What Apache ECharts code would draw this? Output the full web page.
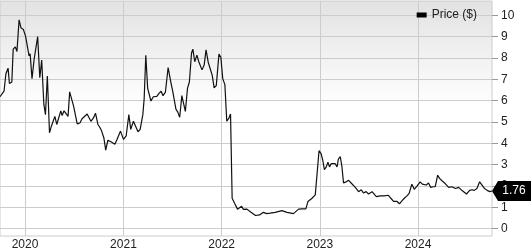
<!DOCTYPE html>
<html><head><meta charset="utf-8">
<script src="https://cdn.jsdelivr.net/npm/echarts@6/dist/echarts.min.js"></script>
<style>html,body{margin:0;padding:0;background:#fff}#c{width:531px;height:251px}</style>
</head><body><div id="c"></div>
<script>
var dates = ['2019-09-30','2019-10-15','2019-10-22','2019-10-30','2019-11-04','2019-11-13','2019-11-18','2019-11-26','2019-12-02','2019-12-10','2019-12-17','2019-12-26',
'2020-01-03','2020-01-16','2020-01-20','2020-01-27','2020-02-04','2020-02-17','2020-02-25','2020-03-03','2020-03-11','2020-03-17','2020-03-24','2020-04-01','2020-04-08','2020-04-21','2020-04-28','2020-05-13','2020-05-18','2020-05-25','2020-06-01','2020-06-09','2020-06-15','2020-06-30','2020-07-13','2020-07-23','2020-07-31','2020-08-19','2020-08-26','2020-09-02','2020-09-12','2020-09-19','2020-09-28','2020-10-05','2020-10-12','2020-10-20','2020-10-27','2020-11-04','2020-11-14','2020-11-21','2020-11-30','2020-12-08','2020-12-21',
'2021-01-01','2021-01-11','2021-01-21','2021-01-28','2021-02-07','2021-02-13','2021-02-24','2021-03-04','2021-03-14','2021-03-19','2021-03-25','2021-04-01','2021-04-13','2021-04-22','2021-05-05','2021-05-13','2021-05-21','2021-05-28','2021-06-06','2021-06-16','2021-06-26','2021-07-03','2021-07-15','2021-07-22','2021-07-29','2021-08-06','2021-08-13','2021-08-19','2021-08-27','2021-09-03','2021-09-11','2021-09-16','2021-09-23','2021-10-01','2021-10-08','2021-10-13','2021-10-20','2021-10-28','2021-11-04','2021-11-12','2021-11-19','2021-11-27','2021-12-04','2021-12-12','2021-12-22','2021-12-29',
'2022-01-05','2022-01-13','2022-01-20','2022-01-28','2022-02-03','2022-02-09','2022-02-18','2022-03-01','2022-03-08','2022-03-16','2022-03-23','2022-04-05','2022-04-20','2022-05-07','2022-05-22','2022-06-05','2022-06-18','2022-06-30','2022-07-19','2022-08-13','2022-09-01','2022-09-25','2022-10-14','2022-10-26','2022-11-10','2022-11-18','2022-12-03','2022-12-15','2022-12-29',
'2023-01-06','2023-01-12','2023-01-18','2023-01-25','2023-01-31','2023-02-06','2023-02-12','2023-02-19','2023-02-27','2023-03-06','2023-03-11','2023-03-18','2023-03-24','2023-03-30','2023-04-09','2023-04-18','2023-04-30','2023-05-13','2023-05-25','2023-06-04','2023-06-12','2023-06-22','2023-07-01','2023-07-14','2023-07-20','2023-07-30','2023-08-14','2023-08-28','2023-09-13','2023-09-22','2023-10-02','2023-10-15','2023-10-24','2023-11-02','2023-11-11','2023-11-21','2023-11-29','2023-12-09','2023-12-18','2023-12-28',
'2024-01-09','2024-01-17','2024-01-24','2024-02-01','2024-02-09','2024-02-17','2024-02-26','2024-03-05','2024-03-14','2024-03-21','2024-03-30','2024-04-11','2024-04-24','2024-05-06','2024-05-19','2024-05-31','2024-06-13','2024-06-29','2024-07-11','2024-07-20','2024-07-28','2024-08-07','2024-08-17','2024-08-26','2024-09-04','2024-09-14','2024-09-24','2024-10-02'];
var prices = [6.18,6.44,7.26,7.52,6.8,6.87,8.41,8.52,8.3,9.79,9.41,9.33,
9.02,8.1,8.2,7.03,7.95,9.0,7.07,7.9,5.83,5.34,7.15,4.49,4.8,5.26,4.88,5.52,5.3,5.52,5.4,5.26,6.41,5.72,4.91,4.95,5.15,5.37,5.41,5.03,5.2,5.41,4.88,4.75,4.57,4.26,3.68,4.14,4.08,4.1,3.95,4.18,4.57,
4.18,4.34,5.34,4.65,5.03,4.95,4.54,4.65,5.34,6.1,8.13,6.57,5.98,6.18,6.2,6.34,6.44,6.23,6.4,7.55,6.87,6.44,5.6,5.46,5.22,6.23,6.27,5.49,6.57,6.87,8.23,8.41,7.82,8.13,7.82,7.9,7.44,7.67,8.38,7.8,7.72,7.18,6.6,6.7,8.18,8.03,
7.03,6.75,5.03,5.18,5.37,1.42,1.19,0.91,0.91,1.04,0.9,0.91,0.76,0.61,0.64,0.76,0.7,0.72,0.76,0.84,0.76,0.7,0.91,0.92,0.92,1.27,1.42,1.58,3.65,
3.5,3.19,2.76,2.89,3.11,2.89,3.04,2.96,3.04,2.89,3.26,3.37,2.91,2.14,2.19,2.26,2.1,1.93,1.73,1.82,1.67,1.73,1.62,1.73,1.79,1.5,1.53,1.53,1.56,1.42,1.27,1.27,1.16,1.3,1.42,1.53,1.65,2.08,1.84,1.99,
2.19,2.08,2.14,2.04,2.14,1.93,1.96,1.96,2.5,2.35,2.24,2.11,1.93,1.96,1.88,1.93,1.78,1.62,1.79,1.82,1.79,1.88,2.19,2.04,1.88,1.79,1.73,1.76];
var yearTicks = ['2020-01-01','2021-01-01','2022-01-01','2023-01-01','2024-01-01'];
var yearLabels = ['2020','2021','2022','2023','2024'];
var yTicks = [0,1,2,3,4,5,6,7,8,9,10];
var xRange = ['2019-09-30','2024-10-02'];
var seriesName = 'Price ($)';
var lastLabel = '1.76';

function ts(d){ return Date.UTC(+d.slice(0,4), +d.slice(5,7)-1, +d.slice(8,10)); }
var xTickTimes = yearTicks.map(ts);
var data = dates.map(function(d,i){return [ts(d), prices[i]];});
var font = 'Arial, "Liberation Sans", sans-serif';

var chart = echarts.init(document.getElementById('c'), null, {renderer:'canvas'});
chart.setOption({
  animation: false,
  textStyle: {fontFamily: font},
  legend: {
    right: 49, top: 4, itemWidth: 10, itemHeight: 5, icon: 'rect',
    textStyle: {fontSize: 12, color: '#222', fontFamily: font},
    data: [{name: seriesName, itemStyle: {color: '#000'}}]
  },
  grid: {
    left: 0, right: 39, top: 1, bottom: 11, show: true,
    borderColor: '#cccccc', borderWidth: 1,
    backgroundColor: {type:'linear', x:0, y:0, x2:0, y2:1, colorStops:[
      {offset:0, color:'#e2e2e2'}, {offset:0.45, color:'#ffffff'}, {offset:1, color:'#ffffff'}]}
  },
  xAxis: {
    type: 'value',
    min: ts(xRange[0]), max: ts(xRange[1]),
    axisLine: {show: false},
    axisTick: {show: false, customValues: xTickTimes},
    axisLabel: {
      customValues: xTickTimes, margin: 3, fontSize: 12, color: '#222', fontFamily: font,
      formatter: function(v){ var i = xTickTimes.indexOf(v); return i >= 0 ? yearLabels[i] : ''; }
    },
    splitLine: {show: true, lineStyle: {color: '#cccccc', width: 1}}
  },
  yAxis: {
    type: 'value', position: 'right',
    min: -0.35, max: 10.67,
    axisLine: {show: false},
    axisTick: {show: true, length: 6, customValues: yTicks, lineStyle: {color: '#999'}},
    axisLabel: {customValues: yTicks, margin: 9, fontSize: 12, color: '#222', fontFamily: font},
    splitLine: {show: true, lineStyle: {color: '#cccccc', width: 1}}
  },
  series: [{
    name: seriesName, type: 'line', data: data, showSymbol: false, symbol: 'none',
    lineStyle: {color: '#111', width: 1.2}, itemStyle: {color: '#000'},
    markPoint: {
      symbol: 'path://M0,10 L6,0 L40,0 L40,20 L6,20 Z',
      symbolSize: [40, 20], symbolKeepAspect: false, symbolOffset: [20, 0],
      itemStyle: {color: '#000'},
      label: {show: true, color: '#fff', fontSize: 12, fontFamily: font, position: 'inside', offset: [2, 0], formatter: lastLabel},
      data: [{coord: data[data.length-1]}]
    }
  }]
});
</script></body></html>
